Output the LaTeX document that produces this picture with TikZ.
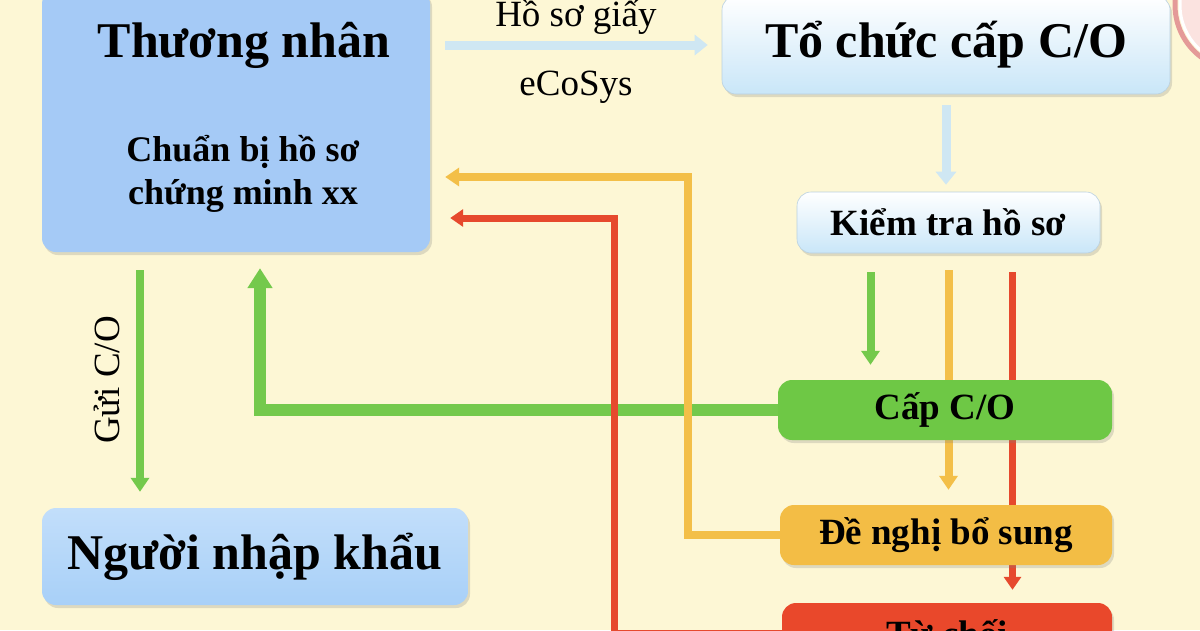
\documentclass[tikz,border=0pt]{standalone}
\usepackage{fontspec}
\setmainfont{Liberation Serif}
\usepackage{tikz}
\usetikzlibrary{arrows.meta}
\usetikzlibrary{shadows}
\usetikzlibrary{positioning}
\definecolor{cream}{HTML}{FDF7D5}
\definecolor{tnblue}{HTML}{A5CAF6}
\definecolor{nkblue}{HTML}{A8D0F8}
\definecolor{paleblue}{HTML}{C9E6F8}
\definecolor{arrowblue}{HTML}{CFE7F3}
\definecolor{capgreen}{HTML}{6EC845}
\definecolor{flowgreen}{HTML}{74C94C}
\definecolor{dnyellow}{HTML}{F3BD45}
\definecolor{flowyellow}{HTML}{F3BF48}
\definecolor{tcred}{HTML}{E9482B}
\definecolor{flowred}{HTML}{E6492D}
\definecolor{pinkedge}{HTML}{E49A98}
\definecolor{pinkfill}{HTML}{FBE3E0}
\newcommand{\fsTitle}{\fontsize{50}{54}\selectfont\bfseries}
\newcommand{\fsSub}{\fontsize{36}{43}\selectfont\bfseries}
\newcommand{\fsBox}{\fontsize{37}{40}\selectfont\bfseries}
\newcommand{\fsLabel}{\fontsize{37}{40}\selectfont}
\pgfdeclarelayer{bg}
\pgfdeclarelayer{lines}
\pgfsetlayers{bg,lines,main}
\tikzset{box/.style={rectangle,rounded corners=14pt,inner sep=0pt,drop shadow={opacity=0.25,shadow xshift=2pt,shadow yshift=-3pt}}}
\tikzset{tnbox/.style={box,fill=tnblue}}
\tikzset{nkbox/.style={box,top color=nkblue!70!white,bottom color=nkblue}}
\tikzset{palebox/.style={box,top color=white,bottom color=paleblue,draw=paleblue!80!gray,line width=0.6pt}}
\tikzset{capbox/.style={box,fill=capgreen}}
\tikzset{dnbox/.style={box,fill=dnyellow}}
\tikzset{tcbox/.style={box,fill=tcred}}
\tikzset{paleflow/.style={draw=arrowblue,line width=9pt,-{Triangle[length=13pt,width=20pt]}}}
\tikzset{greenflow/.style={draw=flowgreen,line width=8pt,-{Triangle[length=14pt,width=18pt]}}}
\tikzset{greenbig/.style={draw=flowgreen,line width=12pt,-{Triangle[length=20pt,width=24pt]}}}
\tikzset{yellowflow/.style={draw=flowyellow,line width=8pt,-{Triangle[length=14pt,width=18pt]}}}
\tikzset{redflow/.style={draw=flowred,line width=7pt,-{Triangle[length=13pt,width=17pt]}}}

\begin{document}
\begin{tikzpicture}[x=1pt,y=-1pt]
\useasboundingbox (0,0) rectangle (1200,630);
\begin{pgfonlayer}{bg}
\fill[cream] (0,0) rectangle (1200,630);
\draw[pinkedge,line width=5pt] (1240,5) circle (65);
\draw[white,line width=3pt,fill=pinkfill] (1240,5) circle (60);
\end{pgfonlayer}

% boxes
\node[tnbox,minimum width=388pt,minimum height=262pt] (tn) at (236,121) {};
\node[font=\fsTitle] (tnname) at (244,45) {Thương nhân};
\node[font=\fsSub,align=center] (tnwork) at (243,174) {Chuẩn bị hồ sơ\\chứng minh xx};
\node[palebox,minimum width=448pt,minimum height=98pt,font=\fsTitle] (tco) at (946,45) {Tổ chức cấp C/O};
\node[palebox,minimum width=303pt,minimum height=61pt,font=\fsBox] (kt) at (948.5,222.5) {Kiểm tra hồ sơ};
\node[capbox,minimum width=334pt,minimum height=60pt,font=\fsBox] (cap) at (945,410) {Cấp C/O};
\node[dnbox,minimum width=332pt,minimum height=60pt,font=\fsBox] (dnbs) at (946,535) {Đề nghị bổ sung};
\node[tcbox,minimum width=330pt,minimum height=60pt,font=\fsBox] (tc) at (947,633) {Từ chối};
\node[nkbox,minimum width=426pt,minimum height=97pt,font=\fsTitle] (nk) at (255,556.5) {Người nhập khẩu};

% connectors
\begin{pgfonlayer}{lines}
\draw[paleflow,shorten <=15pt,shorten >=14pt] (tn.east |- tco.west) -- node[above=3pt,font=\fsLabel] (lblgiay) {Hồ sơ giấy} node[below=18pt,font=\fsLabel] (lbleco) {eCoSys} (tco.west);
\draw[paleflow,shorten <=11pt,shorten >=7pt] (tco.south) -- (tco.south |- kt.north);
\draw[greenflow,shorten <=18pt,shorten >=16pt] ([xshift=-96pt]tn.south) -- node[midway,rotate=90,anchor=south,inner sep=16pt,font=\fsLabel] (lblgui) {Gửi C/O} ([xshift=-96pt]tn.south |- nk.north);
\draw[greenflow,shorten <=19pt,shorten >=15pt] ([xshift=-78pt]kt.south) -- ([xshift=-78pt]kt.south |- cap.north);
\draw[yellowflow,shorten <=17pt,shorten >=15pt] (kt.south) -- (kt.south |- dnbs.north);
\draw[redflow,shorten <=19pt,shorten >=13pt] ([xshift=64pt]kt.south) -- ([xshift=64pt]kt.south |- tc.north);
\draw[greenbig,shorten >=16pt] (cap.west) -| ([xshift=24pt]tn.south);
\draw[yellowflow,shorten >=15pt] (dnbs.west) -- ++(-92,0) |- ([yshift=-56pt]tn.east);
\draw[redflow,shorten >=20pt] (tc.west) -- ++(-167,0) |- ([yshift=-97pt]tn.east);
\end{pgfonlayer}
\end{tikzpicture}
\end{document}
